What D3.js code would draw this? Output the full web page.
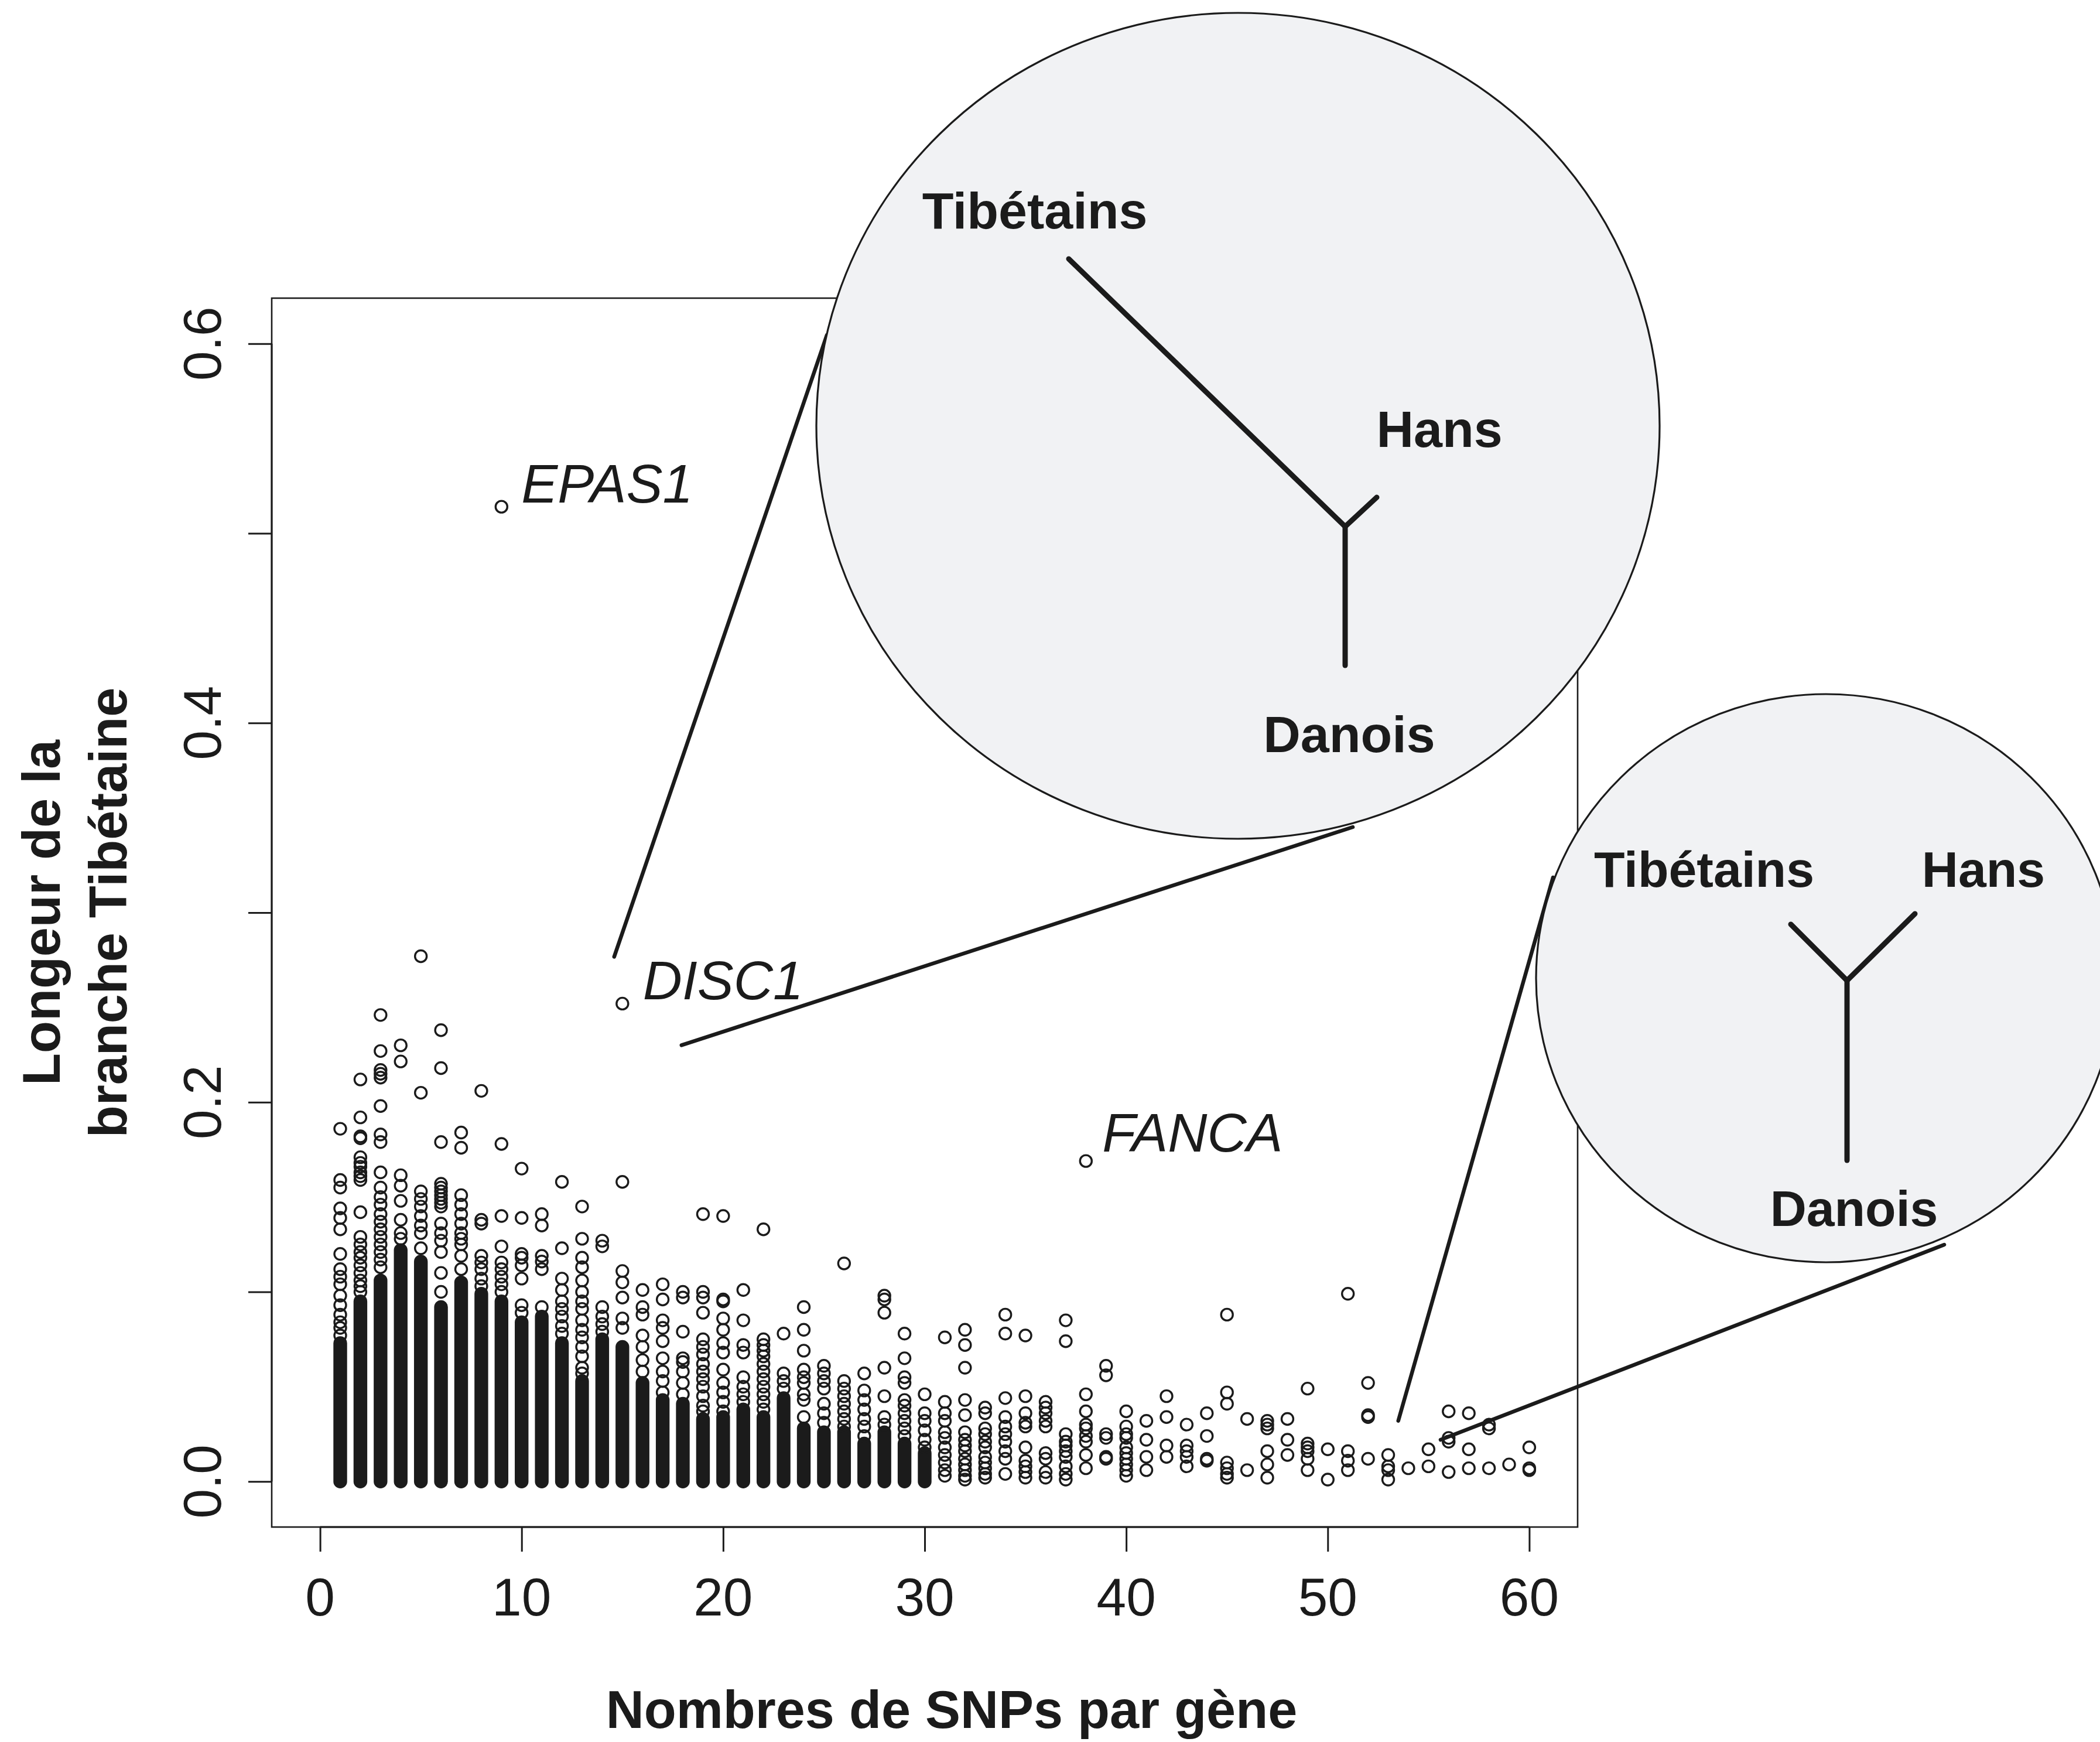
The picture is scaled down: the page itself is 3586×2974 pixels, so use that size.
<!DOCTYPE html>
<html>
<head>
<meta charset="utf-8">
<script src="https://cdn.jsdelivr.net/npm/d3@7"></script>
<style>
  html, body { margin: 0; padding: 0; background: #ffffff; }
  svg { display: block; }
</style>
</head>
<body>
<script>
// ---------------- DATA ----------------
const snpCounts = d3.range(1, 61);           // x categories: number of SNPs per gene
// top of the saturated (solid) part of each column; null = no solid part
const denseTops = [
  0.073, 0.095, 0.106, 0.122, 0.116, 0.092, 0.105, 0.099, 0.095, 0.084,
  0.087, 0.073, 0.053, 0.075, 0.071, 0.052, 0.043, 0.041, 0.033, 0.034,
  0.038, 0.034, 0.044, 0.028, 0.026, 0.026, 0.020, 0.026, 0.020, 0.015,
  null, null, null, null, null, null, null, null, null, null,
  null, null, null, null, null, null, null, null, null, null,
  null, null, null, null, null, null, null, null, null, null
];
// individual visible points above the solid part, per column
const sparseValues = [
  [0.186,0.159,0.155,0.144,0.139,0.133,0.120,0.112,0.108,0.104,0.098,0.093,0.088,0.084,0.081,0.077],
  [0.212,0.192,0.182,0.181,0.171,0.168,0.166,0.163,0.161,0.159,0.142,0.129,0.125,0.121,0.118,0.114,0.110,0.106,0.103,0.100],
  [0.246,0.227,0.217,0.215,0.213,0.198,0.183,0.179,0.163,0.155,0.150,0.146,0.141,0.137,0.133,0.129,0.125,0.121,0.117,0.113],
  [0.230,0.2215,0.1615,0.156,0.148,0.138,0.131,0.128],
  [0.277,0.205,0.153,0.149,0.145,0.140,0.135,0.131,0.123],
  [0.238,0.218,0.179,0.157,0.155,0.153,0.151,0.149,0.147,0.145,0.136,0.131,0.127,0.121,0.110,0.100],
  [0.184,0.176,0.151,0.146,0.141,0.136,0.131,0.128,0.125,0.119,0.112],
  [0.206,0.138,0.136,0.119,0.1155,0.112,0.107,0.103],
  [0.514,0.178,0.140,0.124,0.1155,0.112,0.108,0.104,0.100],
  [0.165,0.139,0.120,0.118,0.114,0.107,0.093,0.089],
  [0.141,0.135,0.119,0.116,0.112,0.092],
  [0.158,0.123,0.107,0.101,0.095,0.091,0.087,0.082,0.078],
  [0.145,0.128,0.118,0.113,0.106,0.100,0.095,0.091,0.085,0.080,0.076,0.071,0.066,0.060,0.057],
  [0.127,0.124,0.092,0.087,0.083,0.079],
  [0.252,0.158,0.111,0.105,0.097,0.086,0.081],
  [0.101,0.092,0.088,0.077,0.071,0.064,0.058],
  [0.104,0.096,0.085,0.081,0.074,0.065,0.058,0.053,0.047],
  [0.100,0.097,0.079,0.065,0.063,0.058,0.052,0.046],
  [0.141,0.100,0.097,0.089,0.075,0.071,0.067,0.062,0.058,0.054,0.050,0.045,0.040,0.037],
  [0.140,0.096,0.095,0.086,0.080,0.073,0.068,0.059,0.052,0.047,0.042,0.037],
  [0.101,0.085,0.072,0.068,0.055,0.050,0.046,0.042],
  [0.133,0.075,0.072,0.069,0.066,0.062,0.058,0.054,0.050,0.046,0.042,0.038],
  [0.078,0.057,0.053,0.049],
  [0.092,0.080,0.069,0.059,0.055,0.052,0.046,0.043,0.034],
  [0.061,0.057,0.053,0.049,0.041,0.036,0.031],
  [0.115,0.053,0.049,0.045,0.041,0.037,0.033,0.029],
  [0.057,0.048,0.043,0.038,0.033,0.029,0.024],
  [0.098,0.096,0.089,0.060,0.045,0.034,0.030],
  [0.078,0.065,0.055,0.052,0.043,0.040,0.036,0.032,0.028,0.024],
  [0.046,0.036,0.032,0.027,0.022,0.018],
  [0.076,0.042,0.036,0.032,0.026,0.023,0.018,0.014,0.010,0.006,0.003],
  [0.080,0.072,0.060,0.043,0.035,0.026,0.022,0.019,0.016,0.012,0.009,0.006,0.003,0.001],
  [0.039,0.036,0.028,0.025,0.021,0.018,0.013,0.010,0.007,0.004,0.002],
  [0.088,0.078,0.044,0.034,0.029,0.025,0.021,0.016,0.012,0.004],
  [0.077,0.045,0.036,0.031,0.029,0.018,0.011,0.008,0.005,0.002],
  [0.042,0.039,0.036,0.032,0.029,0.015,0.012,0.005,0.002],
  [0.085,0.074,0.025,0.021,0.019,0.016,0.013,0.008,0.004,0.001],
  [0.169,0.046,0.037,0.030,0.028,0.024,0.021,0.014,0.007],
  [0.061,0.056,0.025,0.023,0.013,0.012],
  [0.037,0.029,0.025,0.023,0.018,0.015,0.012,0.009,0.006,0.003],
  [0.032,0.022,0.013,0.006],
  [0.045,0.034,0.019,0.013],
  [0.030,0.019,0.016,0.013,0.008],
  [0.036,0.024,0.012,0.011],
  [0.088,0.047,0.041,0.010,0.007,0.004,0.002],
  [0.033,0.006],
  [0.032,0.030,0.028,0.016,0.009,0.002],
  [0.033,0.022,0.014],
  [0.049,0.020,0.018,0.016,0.012,0.006],
  [0.017,0.001],
  [0.099,0.016,0.011,0.006],
  [0.052,0.035,0.034,0.012],
  [0.014,0.008,0.006,0.001],
  [0.007],
  [0.017,0.008],
  [0.037,0.023,0.021,0.005],
  [0.036,0.017,0.007],
  [0.030,0.028,0.007],
  [0.009],
  [0.018,0.007,0.006]
];
const geneLabels = ["EPAS1", "DISC1", "FANCA"];
const geneSnps   = [9, 15, 38];
const geneValues = [0.514, 0.252, 0.169];

const xTicks = [0, 10, 20, 30, 40, 50, 60];
const yTicks = [0, 0.1, 0.2, 0.3, 0.4, 0.5, 0.6];
const yTickLabels = ["0.0", "", "0.2", "", "0.4", "", "0.6"];
const xTitle = "Nombres de SNPs par gène";
const yTitleLines = ["Longeur de la", "branche Tibétaine"];
const treeNames = ["Tibétains", "Hans", "Danois"];

// ---------------- LAYOUT ----------------
const W = 3586, H = 2974;
const INK = "#1b1b1b";
const plot = { left: 464, right: 2694, top: 509, bottom: 2607 };

const svg = d3.select("body").append("svg")
  .attr("width", W).attr("height", H)
  .attr("viewBox", `0 0 ${W} ${H}`);
svg.append("rect").attr("width", W).attr("height", H).attr("fill", "#fff");

const x = d3.scaleLinear().domain([-2.4, 62.4]).range([plot.left, plot.right]);
const y = d3.scaleLinear().domain([-0.024, 0.624]).range([plot.bottom, plot.top]);

const FONT = "'Liberation Sans', Arial, Helvetica, sans-serif";

// box
svg.append("rect")
  .attr("x", plot.left).attr("y", plot.top)
  .attr("width", plot.right - plot.left).attr("height", plot.bottom - plot.top)
  .attr("fill", "none").attr("stroke", INK).attr("stroke-width", 2.6);

// axes
const yAxis = d3.axisLeft(y).tickValues(yTicks).tickSize(40).tickSizeOuter(0).tickFormat("");
const gy = svg.append("g").attr("transform", `translate(${plot.left},0)`).call(yAxis);
gy.select(".domain").attr("d", `M0,${y(0)}V${y(0.6)}`).attr("stroke", INK).attr("stroke-width", 3);
gy.selectAll(".tick line").attr("stroke", INK).attr("stroke-width", 3);

const xAxis = d3.axisBottom(x).tickValues(xTicks).tickSize(42).tickSizeOuter(0).tickFormat("");
const gx = svg.append("g").attr("transform", `translate(0,${plot.bottom})`).call(xAxis);
gx.select(".domain").attr("d", `M${x(0)},0H${x(60)}`).attr("stroke", INK).attr("stroke-width", 3);
gx.selectAll(".tick line").attr("stroke", INK).attr("stroke-width", 3);

// tick labels
svg.append("g").selectAll("text").data(xTicks).join("text")
  .attr("x", d => x(d)).attr("y", 2758)
  .attr("text-anchor", "middle")
  .attr("font-family", FONT).attr("font-size", 91).attr("fill", INK)
  .text(d => d);

svg.append("g").selectAll("text").data(yTicks.map((v, i) => ({ v, t: yTickLabels[i] })).filter(d => d.t))
  .join("text")
  .attr("transform", d => `translate(377,${y(d.v)}) rotate(-90)`)
  .attr("text-anchor", "middle")
  .attr("font-family", FONT).attr("font-size", 91).attr("fill", INK)
  .text(d => d.t);

// axis titles
svg.append("text")
  .attr("x", 1625).attr("y", 2950).attr("text-anchor", "middle")
  .attr("font-family", FONT).attr("font-weight", "bold").attr("font-size", 90).attr("fill", INK)
  .text(xTitle);
const yMid = (plot.top + plot.bottom) / 2;
[102, 216].forEach((bx, i) => {
  svg.append("text")
    .attr("transform", `translate(${bx},${yMid}) rotate(-90)`)
    .attr("text-anchor", "middle")
    .attr("font-family", FONT).attr("font-weight", "bold").attr("font-size", 90).attr("fill", INK)
    .text(yTitleLines[i]);
});

// ---------------- POINTS ----------------
const R = 10, SW = 3.4, HALF = R + SW / 2;
const denseData = snpCounts.map((n, i) => ({ n, top: denseTops[i] })).filter(d => d.top !== null);
svg.append("g").selectAll("rect").data(denseData).join("rect")
  .attr("x", d => x(d.n) - HALF)
  .attr("width", 2 * HALF)
  .attr("y", d => y(d.top) - HALF)
  .attr("height", d => y(0) - y(d.top) + 2 * HALF)
  .attr("rx", HALF).attr("ry", HALF)
  .attr("fill", INK);

const pts = [];
snpCounts.forEach((n, i) => sparseValues[i].forEach(v => pts.push({ n, v })));
svg.append("g").selectAll("circle").data(pts).join("circle")
  .attr("cx", d => x(d.n)).attr("cy", d => y(d.v)).attr("r", R)
  .attr("fill", "none").attr("stroke", INK).attr("stroke-width", SW);

// gene labels
const labelOffsets = [[34, -7], [35, -7], [28, -16]];
svg.append("g").selectAll("text").data(geneLabels).join("text")
  .attr("x", (d, i) => x(geneSnps[i]) + labelOffsets[i][0])
  .attr("y", (d, i) => y(geneValues[i]) + labelOffsets[i][1])
  .attr("font-family", FONT).attr("font-style", "italic").attr("font-size", 93).attr("fill", INK)
  .text(d => d);

// ---------------- CALLOUTS ----------------
const C1 = { cx: 2114, cy: 727, rx: 720, ry: 705 };
const C2 = { cx: 3118, cy: 1670, rx: 495, ry: 485 };

const calloutLines = [
  [[x(15) - 14, y(0.252) - 80], [1412, 572]],
  [[x(15) + 101, y(0.252) + 71], [2310, 1412]],
  [[x(53.5), y(0.032)], [2652, 1498]],
  [[x(55.6), y(0.022)], [3320, 2125]]
];
svg.append("g").selectAll("line").data(calloutLines).join("line")
  .attr("x1", d => d[0][0]).attr("y1", d => d[0][1])
  .attr("x2", d => d[1][0]).attr("y2", d => d[1][1])
  .attr("stroke", INK).attr("stroke-width", 6.5).attr("stroke-linecap", "round");

[C1, C2].forEach(c => {
  svg.append("ellipse")
    .attr("cx", c.cx).attr("cy", c.cy).attr("rx", c.rx).attr("ry", c.ry)
    .attr("fill", "#f1f2f4").attr("stroke", INK).attr("stroke-width", 3.2);
});

// trees
function tree(junction, ends) {
  const g = svg.append("g");
  ends.forEach(e => g.append("line")
    .attr("x1", junction[0]).attr("y1", junction[1])
    .attr("x2", e[0]).attr("y2", e[1])
    .attr("stroke", INK).attr("stroke-width", 9).attr("stroke-linecap", "round"));
}
tree([2297, 899], [[1825, 442], [2351, 849], [2297, 1136]]);
tree([3154, 1674], [[3058, 1578], [3270, 1560], [3154, 1981]]);

const treeLabelPos = [
  [1767, 390, 88], [2458, 763, 88], [2304, 1284, 88],
  [2910, 1514, 86], [3387, 1514, 86], [3166, 2093, 86]
];
svg.append("g").selectAll("text").data(treeLabelPos).join("text")
  .attr("x", d => d[0]).attr("y", d => d[1])
  .attr("text-anchor", "middle")
  .attr("font-family", FONT).attr("font-weight", "bold").attr("font-size", d => d[2]).attr("fill", INK)
  .text((d, i) => treeNames[i % 3]);
</script>
</body>
</html>
